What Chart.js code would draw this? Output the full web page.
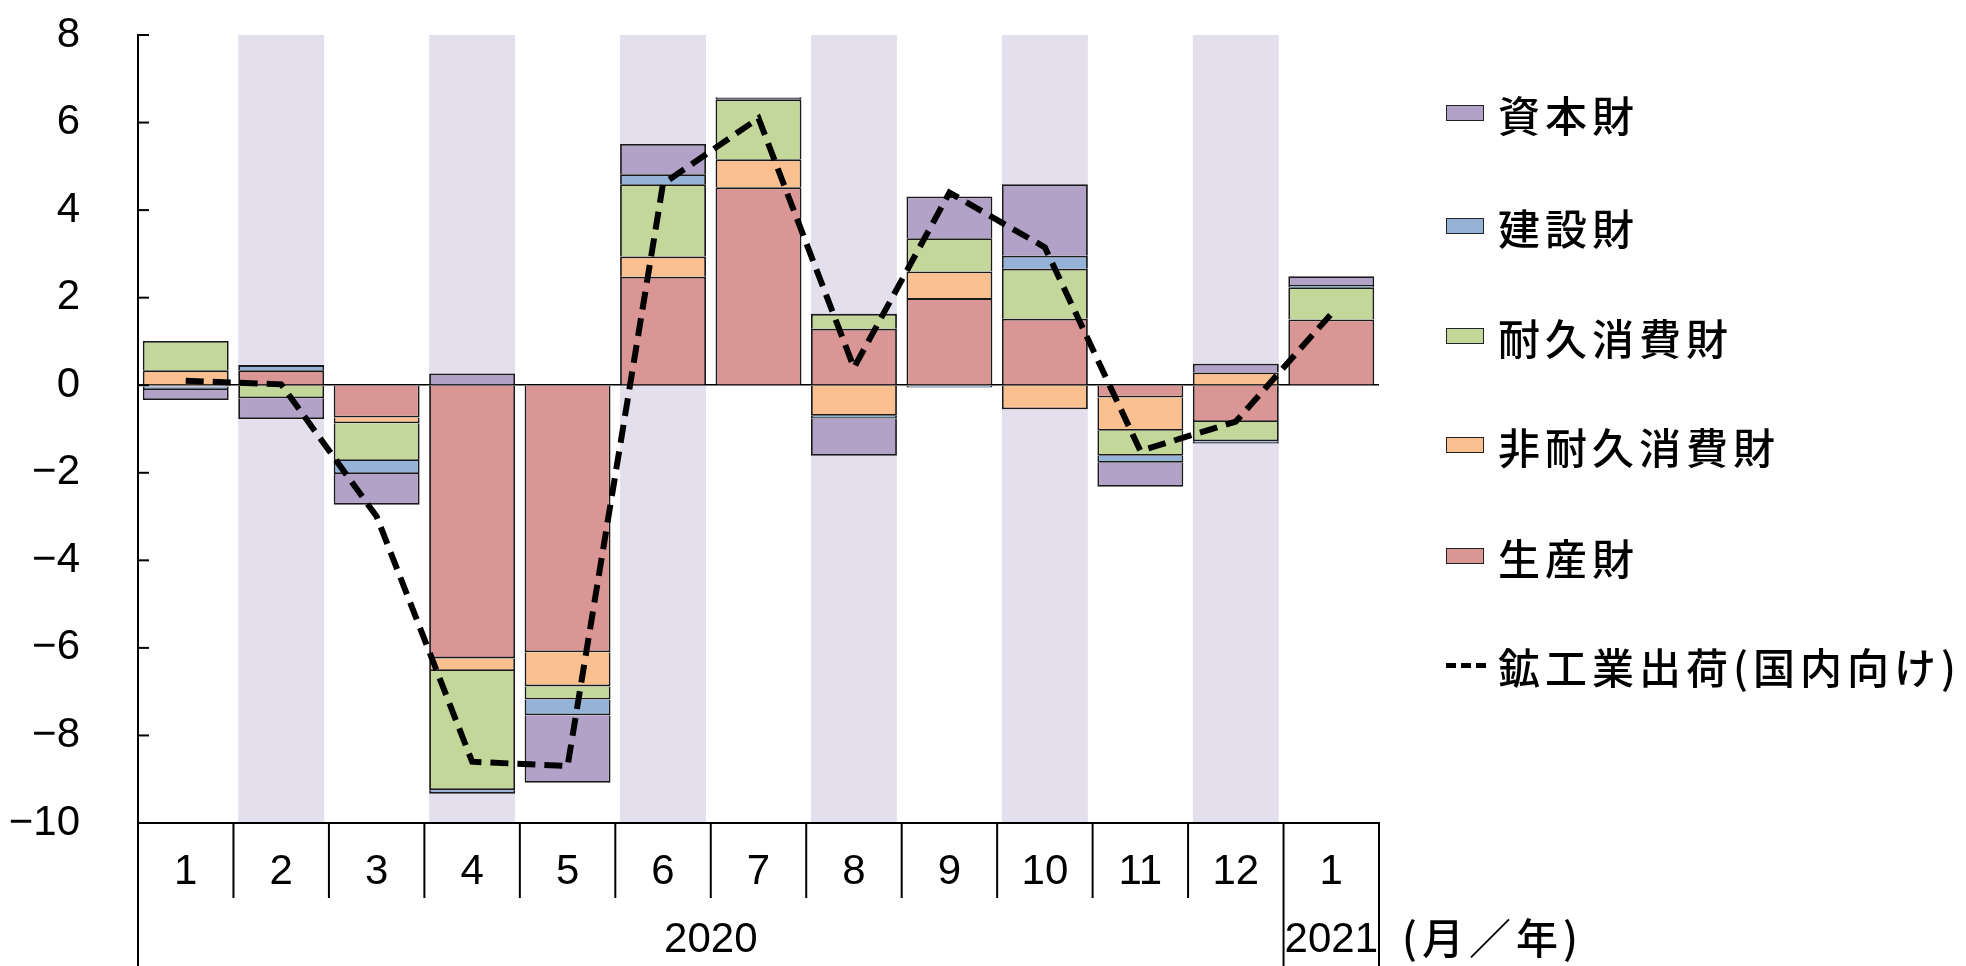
<!DOCTYPE html>
<html lang="ja">
<head>
<meta charset="UTF-8">
<title>鉱工業出荷（国内向け）財別寄与度</title>
<script src="https://cdn.jsdelivr.net/npm/chart.js"></script>
<style>
    body { margin: 0; background: #fff; }
    #wrap { position: relative; width: 1966px; height: 966px; }
    #legend { position: absolute; left: 1446px; top: 0; font-family: "Noto Sans CJK JP", sans-serif; font-size: 42px; font-weight: 500; letter-spacing: 5px; color: #000; }
    .item { position: absolute; left: 0; white-space: nowrap; display: flex; align-items: center; height: 50px; margin-top: -25px; }
    .box { width: 38px; height: 16px; border: 1.5px solid #222; margin-right: 14px; box-sizing: border-box; }
    .dash { width: 40px; height: 5px; margin-right: 12px; background: repeating-linear-gradient(90deg, #000 0 10px, transparent 10px 15px); }
    #unit { position: absolute; left: 1402px; top: 905px; font-family: "Noto Sans CJK JP", sans-serif; font-size: 42px; font-weight: 500; letter-spacing: 5px; }
</style>
</head>
<body>
<div id="wrap">
    <canvas id="chart" width="1966" height="966"></canvas>
    <div id="legend"></div>
    <div id="unit">(月／年)</div>
</div>
<script>
// months, Jan 2020 .. Jan 2021
const months = ["1", "2", "3", "4", "5", "6", "7", "8", "9", "10", "11", "12", "1"];
const years = ["2020", "2021"];
const yearSpans = [12, 1];

// contributions (%pt)
const seisan   = [-0.03, 0.34, -0.74, -6.24, -6.10, 2.48, 4.52, 1.29, 1.99, 1.52, -0.28, -0.84, 1.50];
const hitaikyu = [0.34, 0, -0.13, -0.29, -0.78, 0.46, 0.64, -0.70, 0.61, -0.55, -0.76, 0.29, 0];
const taikyu   = [0.67, -0.30, -0.86, -2.72, -0.30, 1.65, 1.37, 0.34, 0.76, 1.14, -0.57, -0.44, 0.74];
const kensetsu = [-0.08, 0.12, -0.30, -0.08, -0.36, 0.23, 0.03, -0.06, -0.05, 0.30, -0.16, -0.05, 0.05];
const shihon   = [-0.23, -0.47, -0.70, 0.27, -1.54, 0.69, 0.02, -0.85, 0.95, 1.63, -0.55, 0.20, 0.20];
const shukka   = [0.1, 0.02, -3.0, -8.6, -8.7, 4.6, 6.1, 0.4, 4.4, 3.15, -1.5, -0.83, 1.63];

const yTicks = [8, 6, 4, 2, 0, -2, -4, -6, -8, -10];

const numFont = "'Liberation Sans', Arial, sans-serif";

function bar(label, data, color) {
    return {
        type: "bar", label: label, data: data, backgroundColor: color,
        borderColor: "#1a1a1a", borderWidth: 1.8, order: 1, stack: "s"
    };
}

// shaded bands behind even months, axis furniture
const furniture = {
    id: "furniture",
    beforeDraw(chart) {
        const { ctx, scales: { x, y } } = chart;
        const w = (x.getPixelForValue(1) - x.getPixelForValue(0)) * 0.9;
        ctx.save();
        ctx.fillStyle = "#e4dfec";
        months.forEach((m, i) => {
            if (i % 2 === 1) {
                const cx = x.getPixelForValue(i);
                ctx.fillRect(cx - w / 2, y.getPixelForValue(8), w, y.getPixelForValue(-10) - y.getPixelForValue(8));
            }
        });
        ctx.restore();
    },
    afterDraw(chart) {
        const { ctx, scales: { x, y } } = chart;
        const step = x.getPixelForValue(1) - x.getPixelForValue(0);
        const left = x.getPixelForValue(0) - step / 2;
        const bottom = y.getPixelForValue(-10);
        ctx.save();
        ctx.strokeStyle = "#000";
        ctx.lineWidth = 2;
        // inward y ticks
        yTicks.forEach(v => {
            const py = y.getPixelForValue(v);
            ctx.beginPath();
            ctx.moveTo(left, py);
            ctx.lineTo(left + 11, py);
            ctx.stroke();
        });
        // category separators
        let yearStart = [0];
        yearSpans.reduce((a, s) => { yearStart.push(a + s); return a + s; }, 0);
        for (let i = 0; i <= months.length; i++) {
            const px = left + i * step;
            const long = yearStart.includes(i);
            ctx.beginPath();
            ctx.moveTo(px, bottom);
            ctx.lineTo(px, long ? chart.height : bottom + 75);
            ctx.stroke();
        }
        // year labels
        ctx.fillStyle = "#000";
        ctx.font = "42px " + numFont;
        ctx.textAlign = "center";
        ctx.textBaseline = "middle";
        years.forEach((yr, k) => {
            const a = yearStart[k], b = yearStart[k + 1];
            ctx.fillText(yr, left + (a + b) / 2 * step, 940);
        });
        ctx.restore();
    }
};

new Chart(document.getElementById("chart"), {
    data: {
        labels: months,
        datasets: [
            bar("生産財", seisan, "#d99694"),
            bar("非耐久消費財", hitaikyu, "#fac090"),
            bar("耐久消費財", taikyu, "#c4d79b"),
            bar("建設財", kensetsu, "#95b3d7"),
            bar("資本財", shihon, "#b3a2c7"),
            {
                type: "line", label: "鉱工業出荷(国内向け)", data: shukka,
                borderColor: "#000", borderWidth: 6, borderDash: [18, 9],
                pointRadius: 0, tension: 0, fill: false, order: 0
            }
        ]
    },
    options: {
        responsive: false,
        animation: false,
        devicePixelRatio: 1,
        layout: { padding: { top: 35, right: 587, left: 0, bottom: 0 } },
        plugins: { legend: { display: false }, tooltip: { enabled: false } },
        datasets: { bar: { categoryPercentage: 1, barPercentage: 0.9 } },
        scales: {
            x: {
                stacked: true,
                grid: { display: false, drawTicks: false },
                border: { display: true, color: "#000", width: 2 },
                ticks: { color: "#000", font: { family: numFont, size: 42 }, padding: 24, maxRotation: 0 },
                afterFit(s) { s.height = 143; }
            },
            y: {
                stacked: true,
                min: -10, max: 8,
                grid: {
                    drawTicks: false,
                    color: c => c.tick && c.tick.value === 0 ? "#000" : "transparent",
                    lineWidth: 1.5
                },
                border: { display: true, color: "#000", width: 2 },
                ticks: {
                    stepSize: 2, color: "#000", padding: 58,
                    font: { family: numFont, size: 42 },
                    callback: v => String(v).replace("-", "−")
                },
                afterFit(s) { s.width = 138; s.paddingTop = 10; s.paddingBottom = 10; }
            }
        }
    },
    plugins: [furniture]
});

// legend, top to bottom as in the picture
const legendRows = [
    ["資本財", "#b3a2c7", 113],
    ["建設財", "#95b3d7", 226],
    ["耐久消費財", "#c4d79b", 336],
    ["非耐久消費財", "#fac090", 445],
    ["生産財", "#d99694", 556],
    ["鉱工業出荷(国内向け)", null, 665]
];
const lg = document.getElementById("legend");
legendRows.forEach(([text, color, top]) => {
    const d = document.createElement("div");
    d.className = "item";
    d.style.top = top + "px";
    const sw = document.createElement("span");
    if (color) { sw.className = "box"; sw.style.background = color; }
    else { sw.className = "dash"; }
    d.appendChild(sw);
    d.appendChild(document.createTextNode(text));
    lg.appendChild(d);
});
</script>
</body>
</html>
